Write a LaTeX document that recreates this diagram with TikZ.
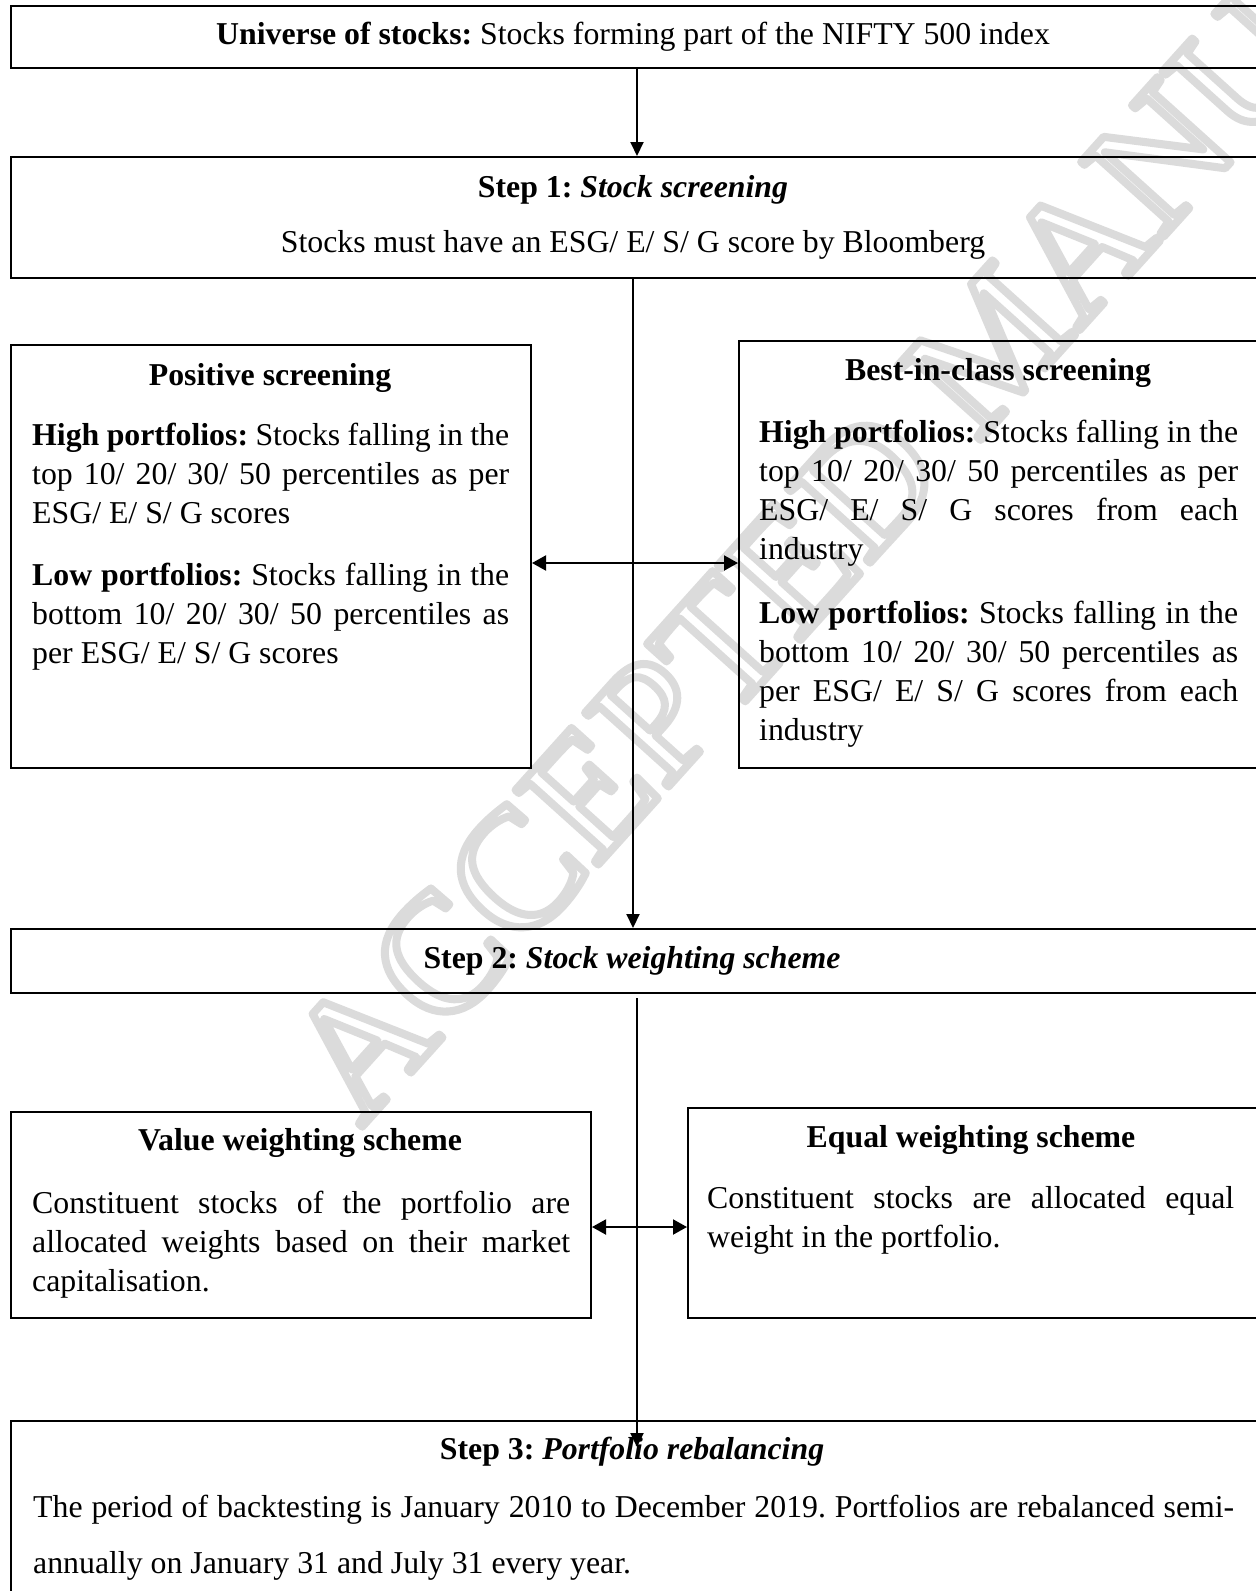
\documentclass[tikz,border=0pt]{standalone}
\usepackage{fontspec}
\setmainfont{Liberation Serif}
\usetikzlibrary{arrows.meta,calc}
\setlength\parindent{0pt}
\frenchspacing
\definecolor{wmgray}{gray}{0.86}
\newcommand\bodyfont{\fontsize{31.8pt}{39pt}\selectfont}
\newcommand\jl[2]{\makebox[#1][s]{#2}}
\newcommand\fstrut{\rule{0pt}{25pt}}
\begin{document}
\begin{tikzpicture}[x=1pt,y=-1pt,
  box/.style={draw, line width=2pt, rectangle, inner sep=0pt, anchor=north west},
  txt/.style={inner sep=0pt, font=\bodyfont},
  para/.style={txt, anchor=north west, align=left},
  conn/.style={line width=2pt},
  tipend/.style={-{Triangle[length=14pt,width=13pt]}},
  tipboth/.style={{Triangle[length=14pt,width=15pt]}-{Triangle[length=14pt,width=15pt]}}
]
\useasboundingbox (0,0) rectangle (1256,1591);
\clip (0,0) rectangle (1256,1591);
\fill[white] (0,0) rectangle (1256,1591);

% watermark
\node[rotate=48, anchor=base west, inner sep=0pt, text=wmgray,
      font=\fontsize{170pt}{170pt}\selectfont] (wm) at (361,1128)
  {\special{pdf:literal direct 8 w 1 j 1 Tr}ACCEPTED MANUSCRIPT\special{pdf:literal direct 0 Tr}};

% boxes
\node[box, minimum width=1249pt, minimum height=62pt]  (top)  at (10,5) {};
\node[box, minimum width=1249pt, minimum height=121pt] (s1)   at (10,156) {};
\node[box, minimum width=520pt,  minimum height=423pt] (pos)  at (10,344) {};
\node[box, minimum width=521pt,  minimum height=427pt] (best) at (738,340) {};
\node[box, minimum width=1249pt, minimum height=64pt]  (s2)   at (10,928) {};
\node[box, minimum width=580pt,  minimum height=206pt] (val)  at (10,1111) {};
\node[box, minimum width=572pt,  minimum height=210pt] (eq)   at (687,1107) {};
\node[box, minimum width=1249pt, minimum height=200pt] (s3)   at (10,1420) {};

% texts
\node[txt, anchor=base] (topt) at (633,44) {\textbf{Universe of stocks:} Stocks forming part of the NIFTY 500 index};
\node[txt, anchor=base] (s1a) at (633,197) {\textbf{Step 1:} \textbf{\textit{Stock screening}}};
\node[txt, anchor=base] (s1b) at (633,252) {Stocks must have an ESG/ E/ S/ G score by Bloomberg};

\node[txt, anchor=base] (post) at (270,385) {\textbf{Positive screening}};
\node[para] (posp1) at (32,420) {\fstrut\jl{477pt}{\textbf{High portfolios:} Stocks falling in the}\\
  \jl{477pt}{top 10/ 20/ 30/ 50 percentiles as per}\\
  ESG/ E/ S/ G scores};
\node[para] (posp2) at (32,560) {\fstrut\jl{477pt}{\textbf{Low portfolios:} Stocks falling in the}\\
  \jl{477pt}{bottom 10/ 20/ 30/ 50 percentiles as}\\
  per ESG/ E/ S/ G scores};

\node[txt, anchor=base] (bestt) at (998,380) {\textbf{Best-in-class screening}};
\node[para] (bestp1) at (759,417) {\fstrut\jl{479pt}{\textbf{High portfolios:} Stocks falling in the}\\
  \jl{479pt}{top 10/ 20/ 30/ 50 percentiles as per}\\
  \jl{479pt}{ESG/ E/ S/ G scores from each}\\
  industry};
\node[para] (bestp2) at (759,598) {\fstrut\jl{479pt}{\textbf{Low portfolios:} Stocks falling in the}\\
  \jl{479pt}{bottom 10/ 20/ 30/ 50 percentiles as}\\
  \jl{479pt}{per ESG/ E/ S/ G scores from each}\\
  industry};

\node[txt, anchor=base] (s2t) at (632,968) {\textbf{Step 2:} \textbf{\textit{Stock weighting scheme}}};

\node[txt, anchor=base] (valt) at (300,1150) {\textbf{Value weighting scheme}};
\node[para] (valp) at (32,1188) {\fstrut\jl{538pt}{Constituent stocks of the portfolio are}\\
  \jl{538pt}{allocated weights based on their market}\\
  capitalisation.};

\node[txt, anchor=base] (eqt) at (971,1147) {\textbf{Equal weighting scheme}};
\node[para] (eqp) at (707,1183) {\fstrut\jl{527pt}{Constituent stocks are allocated equal}\\
  weight in the portfolio.};

\node[txt, anchor=base] (s3t) at (632,1459) {\textbf{Step 3:} \textbf{\textit{Portfolio rebalancing}}};
\node[para, font=\fontsize{31.8pt}{56pt}\selectfont] (s3p) at (33,1492) {\fstrut\jl{1201pt}{The period of backtesting is January 2010 to December 2019. Portfolios are rebalanced semi-}\\
  annually on January 31 and July 31 every year.};

% connectors
\coordinate (xa) at (637,0);
\coordinate (xb) at (633,0);
\coordinate (ya) at (0,563);
\coordinate (yb) at (0,1227);
\draw[conn, tipend] (top.south -| xa) -- (s1.north -| xa);
\draw[conn, tipend] (s1.south -| xb) -- (s2.north -| xb);
\draw[conn, tipboth] (pos.east |- ya) -- (best.west |- ya);
\draw[conn, tipend] ($(s2.south -| xa)+(0,4)$) -- ($(s3.north -| xa)+(0,27)$);
\draw[conn, tipboth] (val.east |- yb) -- (eq.west |- yb);
\end{tikzpicture}
\end{document}
